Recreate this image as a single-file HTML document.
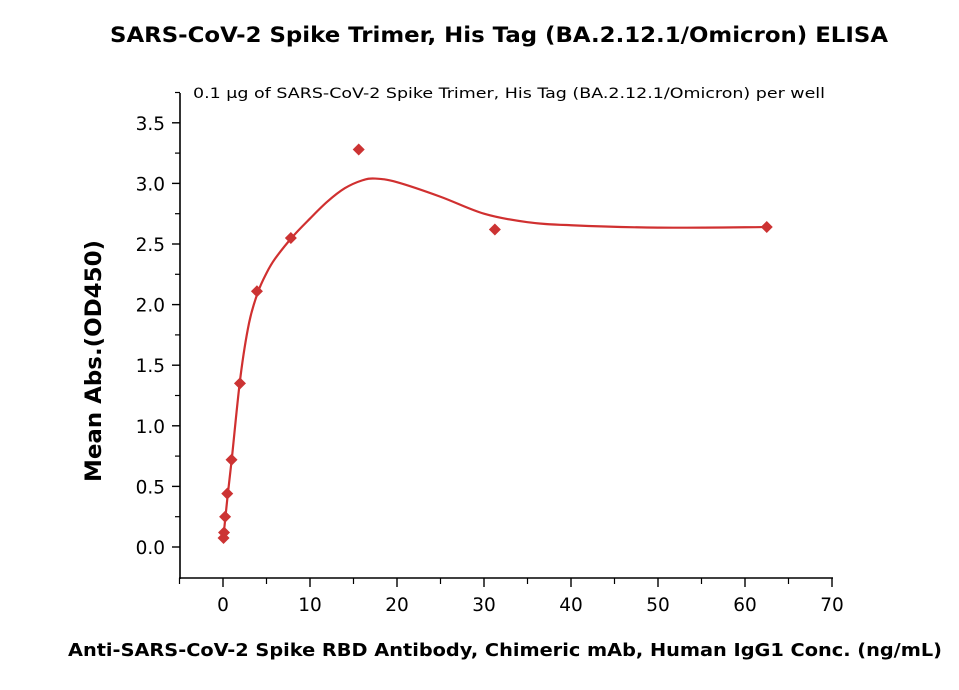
<!DOCTYPE html>
<html><head><meta charset="utf-8"><style>
body{margin:0;background:#fff;width:959px;height:685px;overflow:hidden}
text{font-family:"DejaVu Sans","Liberation Sans",sans-serif}
</style></head><body>
<svg id="chart" width="959" height="685">
<text x="110" y="42" textLength="778" lengthAdjust="spacingAndGlyphs" font-size="21" font-weight="bold">SARS-CoV-2 Spike Trimer, His Tag (BA.2.12.1/Omicron) ELISA</text>
<text x="193" y="98" textLength="632" lengthAdjust="spacingAndGlyphs" font-size="14.5">0.1 μg of SARS-CoV-2 Spike Trimer, His Tag (BA.2.12.1/Omicron) per well</text>
<text transform="translate(101,482) rotate(-90)" textLength="242" lengthAdjust="spacingAndGlyphs" font-size="22" font-weight="bold">Mean Abs.(OD450)</text>
<text x="68" y="656" textLength="874" lengthAdjust="spacingAndGlyphs" font-size="17.5" font-weight="bold">Anti-SARS-CoV-2 Spike RBD Antibody, Chimeric mAb, Human IgG1 Conc. (ng/mL)</text>
<g id="axes"></g><g id="series"></g>
</svg>
<script>
const xTicks=[0,10,20,30,40,50,60,70];
const yTicks=[0.0,0.5,1.0,1.5,2.0,2.5,3.0,3.5];
const conc=[0.06,0.12,0.24,0.49,0.98,1.95,3.9,7.8,15.6,31.25,62.5];
const od=[0.074,0.12,0.25,0.44,0.72,1.35,2.11,2.55,3.28,2.62,2.64];
const fitX=[0,0.5,1,2,3,4,5,6,8,10,12,14,16,17.5,20,25,30,35,40,50,62.5];
const fitY=[0.05,0.40,0.72,1.40,1.85,2.10,2.26,2.38,2.56,2.71,2.85,2.96,3.025,3.04,3.01,2.89,2.75,2.68,2.655,2.635,2.64];
const X=v=>223+v*8.7, Y=v=>547-v*121.2;
const ns="http://www.w3.org/2000/svg";
const ax=document.getElementById('axes'), se=document.getElementById('series');
function mk(p,tag,a){const e=document.createElementNS(ns,tag);for(const k in a)e.setAttribute(k,a[k]);p.appendChild(e);return e;}
let l=mk(ax,'line',{x1:180,y1:93,x2:180,y2:579,stroke:'#000','stroke-width':1.6});


l=mk(ax,'line',{x1:179,y1:578,x2:833,y2:578,stroke:'#000','stroke-width':1.6});


yTicks.forEach(v=>{
 const t=mk(ax,'line',{x1:172,y1:Y(v),x2:180,y2:Y(v),stroke:'#000','stroke-width':1.4});
 
 
 const m=mk(ax,'line',{x1:175,y1:Y(v+0.25),x2:180,y2:Y(v+0.25),stroke:'#000','stroke-width':1.2});
 
 
 const tx=mk(ax,'text',{x:165,y:Y(v)+7,'text-anchor':'end','font-size':18.5});
 tx.textContent=v.toFixed(1);
 
 
});
xTicks.forEach(v=>{
 const t=mk(ax,'line',{x1:X(v),y1:578,x2:X(v),y2:587,stroke:'#000','stroke-width':1.4});
 
 
 if(v<70){const m=mk(ax,'line',{x1:X(v+5),y1:578,x2:X(v+5),y2:584,stroke:'#000','stroke-width':1.2});
 
 }
 const tx=mk(ax,'text',{x:X(v),y:611,'text-anchor':'middle','font-size':18.5});
 tx.textContent=v;
 
 
});
const m5=mk(ax,'line',{x1:X(-5),y1:578,x2:X(-5),y2:584,stroke:'#000','stroke-width':1.2});


const P=fitX.map((x,i)=>[X(x),Y(fitY[i])]);
let d='M'+P[0][0]+','+P[0][1];
for(let i=0;i<P.length-1;i++){const p0=P[Math.max(0,i-1)],p1=P[i],p2=P[i+1],p3=P[Math.min(P.length-1,i+2)];
 d+=` C${p1[0]+(p2[0]-p0[0])/6},${p1[1]+(p2[1]-p0[1])/6} ${p2[0]-(p3[0]-p1[0])/6},${p2[1]-(p3[1]-p1[1])/6} ${p2[0]},${p2[1]}`;}
const c=mk(se,'path',{d:d,fill:'none',stroke:'#d03030','stroke-width':2.2});


conc.forEach((x,i)=>{const cx=X(x),cy=Y(od[i]),r=6;
 const p=mk(se,'polygon',{points:`${cx},${cy-r} ${cx+r},${cy} ${cx},${cy+r} ${cx-r},${cy}`,fill:'#cc3333'});
 
 
});
</script>
</body></html>
